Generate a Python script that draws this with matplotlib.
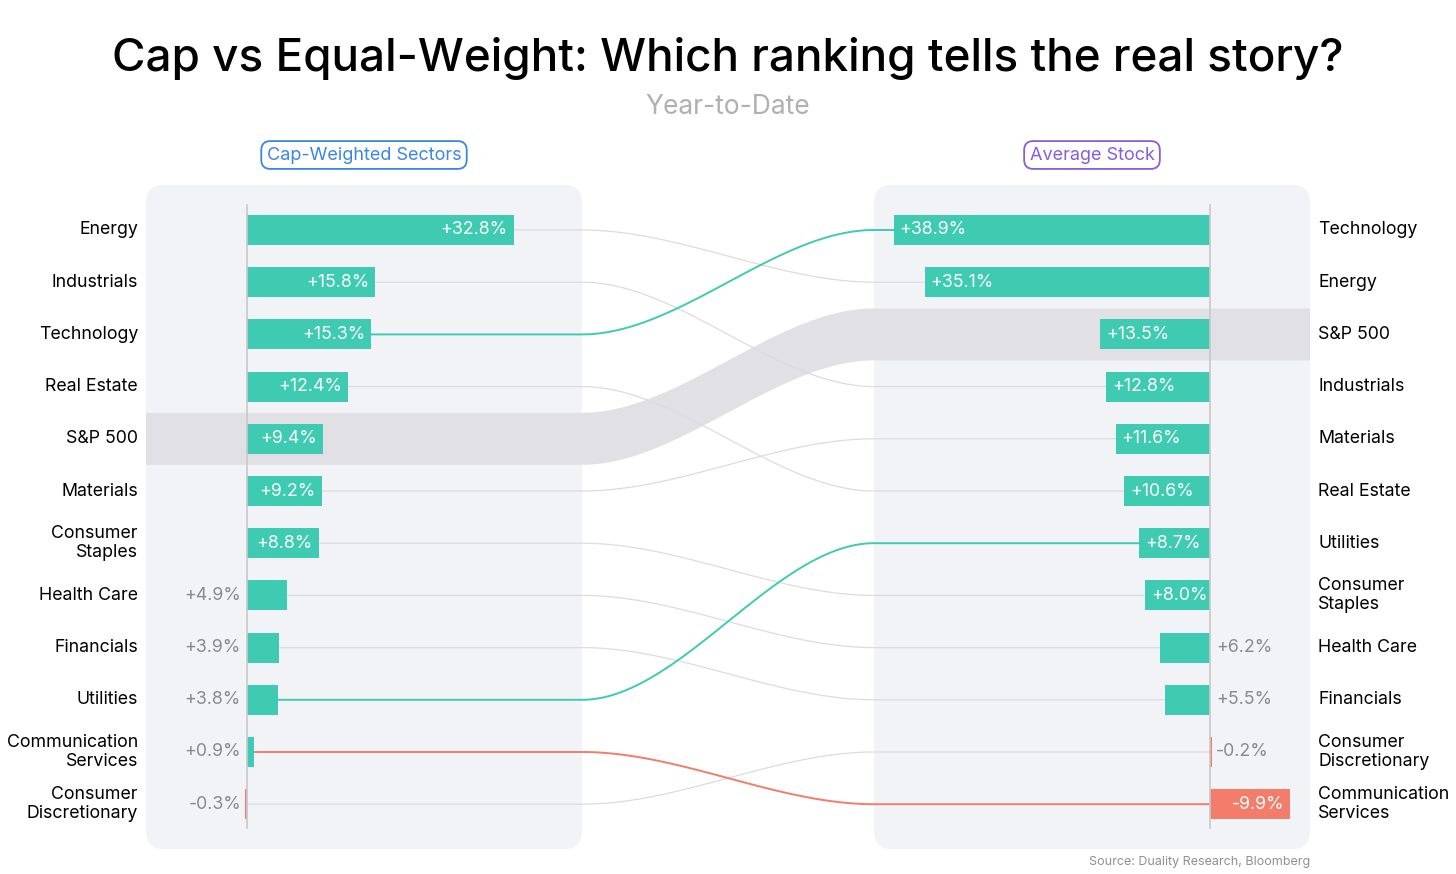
import matplotlib
matplotlib.use("Agg")
import matplotlib.pyplot as plt
import numpy as np
from matplotlib.patches import FancyBboxPatch, Polygon

plt.rcParams['font.family'] = ['Inter', 'DejaVu Sans']

left_names = ["Energy", "Industrials", "Technology", "Real Estate", "S&P 500", "Materials",
              "Consumer\nStaples", "Health Care", "Financials", "Utilities",
              "Communication\nServices", "Consumer\nDiscretionary"]
left_vals = [32.8, 15.8, 15.3, 12.4, 9.4, 9.2, 8.8, 4.9, 3.9, 3.8, 0.9, -0.3]
right_names = ["Technology", "Energy", "S&P 500", "Industrials", "Materials", "Real Estate",
               "Utilities", "Consumer\nStaples", "Health Care", "Financials",
               "Consumer\nDiscretionary", "Communication\nServices"]
right_vals = [38.9, 35.1, 13.5, 12.8, 11.6, 10.6, 8.7, 8.0, 6.2, 5.5, -0.2, -9.9]

TEAL = "#3ecbb1"; RED = "#f47c6a"; GRAY = "#8a8a8a"
highlight = {"Technology": TEAL, "Utilities": TEAL, "Communication\nServices": RED}

fig = plt.figure(figsize=(14.56, 8.74), dpi=100)
ax = fig.add_axes([0, 0, 1, 1])
ax.set_xlim(0, 1456); ax.set_ylim(874, 0); ax.axis("off")

S = 8.13
y0, dy, bh = 230, 52.2, 30
L0, R0 = 247, 1210
LP = (146, 582); RP = (874, 1310)
FS = 12.8

for (a, b) in (LP, RP):
    ax.add_patch(FancyBboxPatch((a, 185), b - a, 664, boxstyle="round,pad=0,rounding_size=18",
                                fc="#f2f3f7", ec="none", zorder=0))

def ypos(i): return y0 + i * dy

def sig(xa, xb, ya, yb, n=100):
    t = np.linspace(0, 1, n)
    s = 3 * t**2 - 2 * t**3
    return xa + (xb - xa) * t, ya + (yb - ya) * s

li = left_names.index("S&P 500"); ri = right_names.index("S&P 500")
xs, yc = sig(LP[1], RP[0], ypos(li), ypos(ri))
top = [(LP[0], ypos(li) - 26)] + list(zip(xs, yc - 26)) + [(RP[1], ypos(ri) - 26)]
bot = [(RP[1], ypos(ri) + 26)] + list(zip(xs[::-1], yc[::-1] + 26)) + [(LP[0], ypos(li) + 26)]
ax.add_patch(Polygon(top + bot, closed=True, fc="#e1e1e5", ec="none", zorder=1))

for i, n in enumerate(left_names):
    if n == "S&P 500": continue
    j = right_names.index(n)
    xa = L0 + max(left_vals[i], 0) * S
    xb = R0 - max(right_vals[j], 0) * S
    col = highlight.get(n, "#dcdcdc"); lw = 1.4 if n in highlight else 0.9
    xs, ys = sig(LP[1], RP[0], ypos(i), ypos(j))
    ax.plot(np.r_[xa, xs, xb], np.r_[ypos(i), ys, ypos(j)], color=col, lw=lw,
            zorder=3 if n in highlight else 2)

for i, v in enumerate(left_vals):
    c = TEAL if v >= 0 else RED
    ax.barh(ypos(i), v * S, left=L0, height=bh, color=c, zorder=4)
    lab = f"{v:+.1f}%"
    if v > 7:
        ax.text(L0 + v * S - 6, ypos(i), lab, ha="right", va="center", color="white", fontsize=FS, zorder=5)
    else:
        ax.text(L0 - 6, ypos(i), lab, ha="right", va="center", color=GRAY, fontsize=FS, zorder=5)
    ax.text(138, ypos(i), left_names[i], ha="right", va="center", fontsize=FS, linespacing=1.15)

for j, v in enumerate(right_vals):
    if v >= 0:
        ax.barh(ypos(j), -v * S, left=R0, height=bh, color=TEAL, zorder=4)
        if v > 7:
            ax.text(R0 - v * S + 6, ypos(j), f"{v:+.1f}%", ha="left", va="center", color="white", fontsize=FS, zorder=5)
        else:
            ax.text(R0 + 6, ypos(j), f"{v:+.1f}%", ha="left", va="center", color=GRAY, fontsize=FS, zorder=5)
    else:
        ax.barh(ypos(j), -v * S, left=R0, height=bh, color=RED, zorder=4)
        if v < -5:
            ax.text(R0 - v * S - 6, ypos(j), f"{v:.1f}%", ha="right", va="center", color="white", fontsize=FS, zorder=5)
        else:
            ax.text(R0 + 6, ypos(j), f"{v:.1f}%", ha="left", va="center", color=GRAY, fontsize=FS, zorder=5)
    ax.text(1318, ypos(j), right_names[j], ha="left", va="center", fontsize=FS, linespacing=1.15)

for x in (L0, R0):
    ax.plot([x, x], [205, 828], color="#c8c8cc", lw=1.2, zorder=6)

ax.text(728, 58, "Cap vs Equal-Weight: Which ranking tells the real story?", ha="center", va="center",
        fontsize=33, fontweight="medium")
ax.text(728, 107, "Year-to-Date", ha="center", va="center", fontsize=19, color="#b0b0b0")
ax.text(364, 155, "Cap-Weighted Sectors", ha="center", va="center", fontsize=13, color="#3a86e8",
        bbox=dict(boxstyle="round,pad=0.3,rounding_size=0.5", fc="white", ec="#3a86e8", lw=1.3))
ax.text(1092, 155, "Average Stock", ha="center", va="center", fontsize=13, color="#8a5be0",
        bbox=dict(boxstyle="round,pad=0.3,rounding_size=0.5", fc="white", ec="#8a5be0", lw=1.3))
ax.text(1310, 862, "Source: Duality Research, Bloomberg", ha="right", va="center", fontsize=9, color="#909090")

fig.savefig("out.png", dpi=100)
